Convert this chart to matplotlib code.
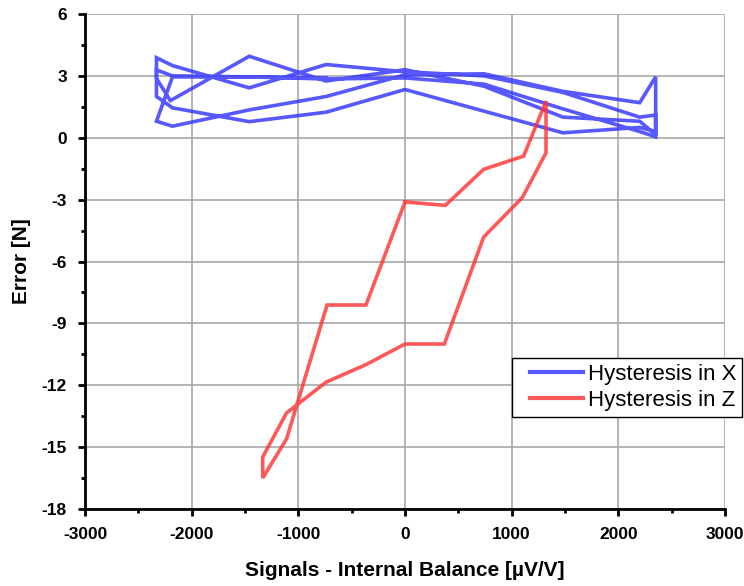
import matplotlib
matplotlib.use("Agg")
import matplotlib.pyplot as plt
from matplotlib.ticker import MultipleLocator
from matplotlib.legend_handler import HandlerLine2D
from matplotlib.lines import Line2D

plt.rcParams['font.family'] = ['Liberation Sans', 'DejaVu Sans']
plt.rcParams['axes.unicode_minus'] = False

# Hysteresis in X (signal, error)
x_sig = [-740, -1460, -2180, -2330, -2180, -1460, -740, 0, 740, 1480, 2200, 2350, 2350,
         2200, 1480, 740, 0,
         -740, -1460, -2180, -2330, -2330, -2180, -1460, -740, 0, 1480, 2200, 2350, 2350,
         2200, 1480, 740, 0, -740, -1460, -2180, -2330, -2330, -2200, -1460, -740, 0,
         740, 1480, 2200, 2350]
x_err = [2.9, 2.95, 2.95, 0.8, 0.56, 1.35, 2.0, 3.05, 3.1, 2.25, 1.7, 2.95, 0.05,
         0.3, 1.4, 2.6, 2.9,
         2.85, 2.95, 3.0, 3.29, 2.0, 1.45, 0.78, 1.24, 2.34, 0.24, 0.5, 0.3, 1.1,
         1.0, 2.2, 3.0, 3.2, 3.55, 2.42, 3.5, 3.88, 2.88, 1.8, 3.95, 2.75, 3.3,
         2.5, 1.0, 0.8, 0.15]

# Hysteresis in Z (signal, error)
z_sig = [0, 378, 738, 1112, 1322, 1322, 1100, 738, 369, 0, -366, -740, -1110, -1334,
         -1334, -1110, -731, -366, 0]
z_err = [-3.11, -3.28, -1.53, -0.89, 1.77, -0.73, -2.9, -4.81, -10.0, -10.0, -11.0,
         -11.85, -13.34, -15.48, -16.5, -14.6, -8.11, -8.11, -3.11]

x_ticks = [-3000, -2000, -1000, 0, 1000, 2000, 3000]
y_ticks = [-18, -15, -12, -9, -6, -3, 0, 3, 6]


class OffsetLineHandler(HandlerLine2D):
    def create_artists(self, legend, orig_handle, xdescent, ydescent, width, height,
                       fontsize, trans):
        arts = super().create_artists(legend, orig_handle, xdescent, ydescent, width,
                                      height, fontsize, trans)
        off = 0.18 * width
        for a in arts:
            if isinstance(a, Line2D):
                xd = list(a.get_xdata())
                if len(xd) >= 2:
                    a.set_xdata([xd[0] + off, xd[-1]])
                    a.set_ydata([a.get_ydata()[0]] * 2)
        return arts


fig = plt.figure(figsize=(7.44, 5.86), dpi=100)
ax = fig.add_axes([85/744, (586-509)/586, 640/744, (509-14)/586])

ax.plot(x_sig, x_err, color=(0.2, 0.2, 1.0), alpha=0.82, lw=2.6, label='Hysteresis in X',
        solid_joinstyle='miter')
ax.plot(z_sig, z_err, color=(1.0, 0.2, 0.2), alpha=0.82, lw=2.6, label='Hysteresis in Z',
        solid_joinstyle='miter')

ax.set_xlim(-3000, 3000)
ax.set_ylim(-18, 6)
ax.set_xticks(x_ticks)
ax.set_yticks(y_ticks)
ax.xaxis.set_minor_locator(MultipleLocator(500))
ax.yaxis.set_minor_locator(MultipleLocator(1.5))
ax.grid(True, which='major', color='#a8a8a8', lw=1.2)
ax.set_axisbelow(True)

for s in ['top', 'right']:
    ax.spines[s].set_visible(False)
for s in ['left', 'bottom']:
    ax.spines[s].set_linewidth(2)
ax.tick_params(which='major', direction='out', length=5, width=2, labelsize=12.5)
ax.tick_params(axis='x', which='major', pad=8)
ax.tick_params(axis='y', which='major', pad=8)
ax.tick_params(which='minor', direction='out', length=3, width=2)
for lab in ax.get_xticklabels() + ax.get_yticklabels():
    lab.set_fontweight('bold')

ax.set_xlabel('Signals - Internal Balance [µV/V]', fontsize=15, fontweight='bold', labelpad=14)
ax.set_ylabel('Error [N]', fontsize=15, fontweight='bold', labelpad=8)

leg = ax.legend(loc='upper left', bbox_to_anchor=((512-85)/640, (509-358)/495),
                fontsize=16, frameon=True, fancybox=False, framealpha=1,
                edgecolor='black', borderpad=0.28, labelspacing=0.2,
                handlelength=2.9, handletextpad=0.22, borderaxespad=0,
                handler_map={Line2D: OffsetLineHandler()})
leg.get_frame().set_linewidth(1)
for h in leg.get_lines():
    h.set_linewidth(3)

fig.savefig('out.png', dpi=100)
